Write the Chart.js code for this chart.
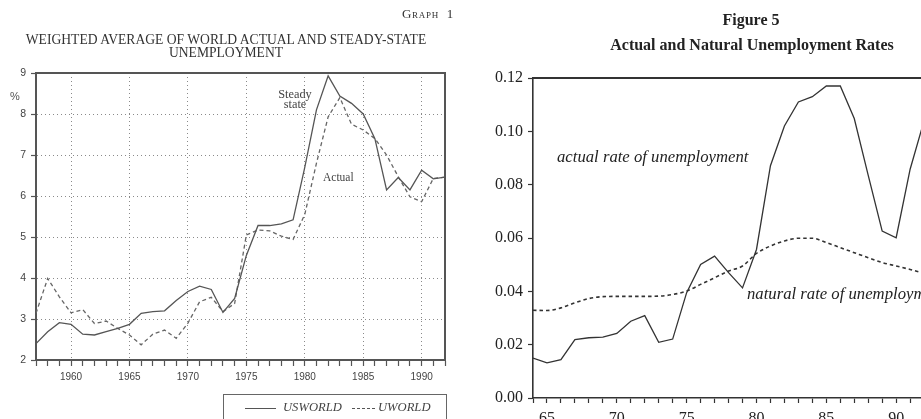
<!DOCTYPE html>
<html>
<head>
<meta charset="utf-8">
<script src="https://cdn.jsdelivr.net/npm/chart.js@4/dist/chart.umd.min.js"></script>
<style>
  html, body { margin:0; padding:0; background:#fff; }
  body { width:921px; height:419px; overflow:hidden; position:relative; }
  .t { position:absolute; white-space:nowrap; line-height:1; }
  #leftWrap { position:absolute; left:0; top:0; width:460px; height:419px; }
  #rightWrap { position:absolute; left:460px; top:0; width:520px; height:450px; }
</style>
</head>
<body>
<div id="leftWrap"><canvas id="c1" width="460" height="419"></canvas></div>
<div id="rightWrap"><canvas id="c2" width="520" height="450"></canvas></div>

<!-- left texts -->
<div class="t" style="left:402px; top:7px; font-family:'Liberation Serif'; font-size:13px; font-variant:small-caps; letter-spacing:0.7px; color:#333;">Graph&nbsp; 1</div>
<div class="t" style="left:226px; top:33px; transform:translateX(-50%); font-family:'Liberation Serif'; font-size:13.6px; color:#333;">WEIGHTED AVERAGE OF WORLD ACTUAL AND STEADY-STATE</div>
<div class="t" style="left:226px; top:46px; transform:translateX(-50%); font-family:'Liberation Serif'; font-size:13.6px; color:#333;">UNEMPLOYMENT</div>
<div class="t" style="left:10px; top:91px; font-family:'Liberation Sans'; font-size:11px; color:#555;">%</div>
<div class="t" style="left:295px; top:89px; transform:translateX(-50%); text-align:center; font-family:'Liberation Serif'; font-size:12.3px; line-height:0.85; color:#444;">Steady<br>state</div>
<div class="t" style="left:323px; top:172px; font-family:'Liberation Serif'; font-size:11.5px; color:#444;">Actual</div>
<div style="position:absolute; left:223px; top:394px; width:224px; height:40px; border:1.5px solid #666; box-sizing:border-box;"></div>
<div style="position:absolute; left:245px; top:408px; width:31px; height:0; border-top:1.3px solid #555;"></div>
<div class="t" style="left:283px; top:401px; font-family:'Liberation Serif'; font-style:italic; font-size:12.6px; color:#444;">USWORLD</div>
<div style="position:absolute; left:352px; top:408px; width:23px; height:0; border-top:1.3px dashed #555;"></div>
<div class="t" style="left:378px; top:401px; font-family:'Liberation Serif'; font-style:italic; font-size:12.6px; color:#444;">UWORLD</div>

<!-- right texts -->
<div class="t" style="left:751px; top:12px; transform:translateX(-50%); font-family:'Liberation Serif'; font-weight:bold; font-size:16px; color:#222;">Figure 5</div>
<div class="t" style="left:752px; top:37px; transform:translateX(-50%); font-family:'Liberation Serif'; font-weight:bold; font-size:16px; color:#222;">Actual and Natural Unemployment Rates</div>
<div class="t" style="left:557px; top:149px; font-family:'Liberation Serif'; font-style:italic; font-size:16.7px; color:#222;">actual rate of unemployment</div>
<div class="t" style="left:747px; top:286px; font-family:'Liberation Serif'; font-style:italic; font-size:16.7px; color:#222;">natural rate of unemployment</div>

<script>
// ---------- Left chart data (Graph 1) ----------
const leftYears = [1957,1958,1959,1960,1961,1962,1963,1964,1965,1966,1967,1968,1969,1970,1971,1972,1973,1974,1975,1976,1977,1978,1979,1980,1981,1982,1983,1984,1985,1986,1987,1988,1989,1990,1991,1992];
const usworld = [2.40,2.69,2.91,2.87,2.63,2.61,2.69,2.77,2.87,3.14,3.18,3.20,3.45,3.67,3.80,3.72,3.16,3.50,4.55,5.28,5.28,5.32,5.42,6.70,8.10,8.93,8.44,8.26,8.00,7.40,6.15,6.45,6.15,6.63,6.42,6.46];
const uworld  = [3.14,3.99,3.54,3.15,3.23,2.89,2.95,2.77,2.61,2.37,2.63,2.73,2.53,2.90,3.42,3.53,3.18,3.38,5.05,5.17,5.15,5.02,4.94,5.55,6.80,7.93,8.40,7.75,7.61,7.40,7.00,6.47,5.98,5.86,6.43,6.46];
const leftYTicks = [2,3,4,5,6,7,8,9];

// ---------- Right chart data (Figure 5) ----------
const rightYears = [1964,1965,1966,1967,1968,1969,1970,1971,1972,1973,1974,1975,1976,1977,1978,1979,1980,1981,1982,1983,1984,1985,1986,1987,1988,1989,1990,1991,1992,1993,1994];
const actualRate = [0.0150,0.0132,0.0144,0.0219,0.0226,0.0228,0.0242,0.0288,0.0309,0.0209,0.0221,0.0395,0.0501,0.0532,0.0470,0.0413,0.0557,0.0871,0.1020,0.1110,0.1130,0.1170,0.1170,0.1048,0.0835,0.0626,0.0601,0.0858,0.1040,0.1076,0.0980];
const naturalRate = [0.0329,0.0328,0.0338,0.0357,0.0373,0.0380,0.0381,0.0381,0.0381,0.0382,0.0388,0.0401,0.0426,0.0451,0.0476,0.0495,0.0542,0.0570,0.0589,0.0599,0.0599,0.0583,0.0564,0.0545,0.0526,0.0508,0.0495,0.0482,0.0467,0.0455,0.0445];
const rightYTicks = [0.00,0.02,0.04,0.06,0.08,0.10,0.12];

const pts = (xs, ys) => xs.map((x, i) => ({x, y: ys[i]}));
const isMajor = v => Math.abs(v - Math.round(v)) < 1e-6 && Math.round(v) % 5 === 0;

// ---------- Left chart ----------
new Chart(document.getElementById('c1'), {
  type: 'line',
  data: {
    datasets: [
      { label: 'USWORLD', data: pts(leftYears, usworld), borderColor: '#555', borderWidth: 1.3, pointRadius: 0, tension: 0, fill: false },
      { label: 'UWORLD', data: pts(leftYears, uworld), borderColor: '#666', borderWidth: 1.3, borderDash: [4,3], pointRadius: 0, tension: 0, fill: false }
    ]
  },
  options: {
    responsive: false,
    animation: false,
    events: [],
    layout: { padding: { top: 73, right: 15, left: 0, bottom: 29 } },
    plugins: { legend: { display: false }, tooltip: { enabled: false } },
    scales: {
      x: {
        type: 'linear', position: 'bottom', min: 1957, max: 1992,
        afterFit: s => { s.height = 30; },
        ticks: { stepSize: 1, autoSkip: false, maxRotation: 0, padding: 5,
                 font: { family: 'Liberation Sans', size: 10 }, color: '#444',
                 callback: v => isMajor(v) ? String(Math.round(v)) : '' },
        grid: {
          color: c => (c.tick && isMajor(c.tick.value)) ? '#8a8a8a' : 'rgba(0,0,0,0)',
          lineWidth: 1, tickLength: 6, tickColor: '#555', tickWidth: 1.2, tickBorderDash: []
        },
        border: { color: '#555', width: 2, dash: [1,3] }
      },
      y: {
        type: 'linear', position: 'left', min: 2, max: 9,
        afterFit: s => { s.width = 36; },
        afterBuildTicks: s => { s.ticks = leftYTicks.map(v => ({value: v})); },
        ticks: { padding: 5, font: { family: 'Liberation Sans', size: 10.5 }, color: '#444' },
        grid: {
          color: c => (c.tick && c.tick.value > 2 && c.tick.value < 9) ? '#8a8a8a' : 'rgba(0,0,0,0)',
          lineWidth: 1, tickLength: 5, tickColor: '#555', tickWidth: 1.2, tickBorderDash: []
        },
        border: { color: '#555', width: 2, dash: [1,3] }
      },
      xTop: {
        type: 'linear', position: 'top', display: true,
        afterFit: s => { s.height = 0; },
        ticks: { display: false }, grid: { display: false, drawTicks: false },
        border: { display: true, color: '#555', width: 2 }
      },
      yRight: {
        type: 'linear', position: 'right', display: true,
        afterFit: s => { s.width = 0; },
        ticks: { display: false }, grid: { display: false, drawTicks: false },
        border: { display: true, color: '#555', width: 2 }
      }
    }
  }
});

// ---------- Right chart ----------
new Chart(document.getElementById('c2'), {
  type: 'line',
  data: {
    datasets: [
      { label: 'actual rate of unemployment', data: pts(rightYears, actualRate), borderColor: '#333', borderWidth: 1.3, pointRadius: 0, tension: 0, fill: false },
      { label: 'natural rate of unemployment', data: pts(rightYears, naturalRate), borderColor: '#333', borderWidth: 1.6, borderDash: [3.5,3], pointRadius: 0, cubicInterpolationMode: 'monotone', fill: false }
    ]
  },
  options: {
    responsive: false,
    animation: false,
    events: [],
    layout: { padding: { top: 78, right: 6.6, left: 0, bottom: 12 } },
    plugins: { legend: { display: false }, tooltip: { enabled: false } },
    scales: {
      x: {
        type: 'linear', position: 'bottom', min: 1964, max: 1995,
        afterFit: s => { s.height = 40; },
        ticks: { stepSize: 1, autoSkip: false, maxRotation: 0, padding: 6,
                 font: { family: 'Liberation Serif', size: 16 }, color: '#222',
                 callback: v => isMajor(v) ? String(Math.round(v) % 100) : '' },
        grid: { drawOnChartArea: false, tickLength: 5, tickColor: '#333', tickWidth: 1.2 },
        border: { color: '#333', width: 1.6 }
      },
      y: {
        type: 'linear', position: 'left', min: 0, max: 0.12,
        afterFit: s => { s.width = 73; },
        afterBuildTicks: s => { s.ticks = rightYTicks.map(v => ({value: v})); },
        ticks: { padding: 5, font: { family: 'Liberation Serif', size: 16 }, color: '#222',
                 callback: v => Number(v).toFixed(2) },
        grid: { drawOnChartArea: false, tickLength: 5, tickColor: '#333', tickWidth: 1.2 },
        border: { color: '#333', width: 1.6 }
      },
      xTop: {
        type: 'linear', position: 'top', display: true,
        afterFit: s => { s.height = 0; },
        ticks: { display: false }, grid: { display: false, drawTicks: false },
        border: { display: true, color: '#333', width: 2 }
      }
    }
  }
});
</script>
</body>
</html>
